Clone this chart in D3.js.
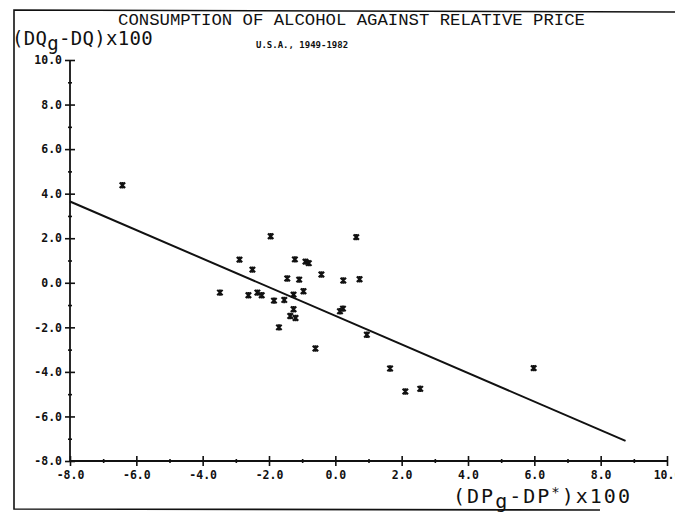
<!DOCTYPE html>
<html>
<head>
<meta charset="utf-8">
<script src="https://cdn.jsdelivr.net/npm/d3@7"></script>
<style>
  body { margin: 0; background: #fff; }
  svg { display: block; }
</style>
</head>
<body>
<svg id="chart" width="675" height="517"></svg>
<script>
// price deviation (DPg-DP*)x100
const priceDev = [-1.95, 0.63, -2.89, -2.50, -1.22, -0.90, -0.80, -1.45, -1.09, -0.42, 0.24,
    0.73, -3.48, -2.62, -2.35, -2.22, -1.85, -1.54, -1.26, -0.96, -1.26, -1.36, -1.20, -1.70,
    -0.60, 0.23, 0.14, 0.95, 1.65, 2.11, 2.56, 5.98, -6.42];
// consumption deviation (DQg-DQ)x100
const consDev = [2.09, 2.05, 1.04, 0.59, 1.05, 0.95, 0.88, 0.19, 0.14, 0.37, 0.10,
    0.16, -0.44, -0.56, -0.44, -0.56, -0.80, -0.77, -0.53, -0.38, -1.19, -1.49, -1.58, -2.00,
    -2.95, -1.16, -1.28, -2.33, -3.85, -4.88, -4.76, -3.83, 4.38];

// fitted line end points
const fitX = [-8.0, 8.75];
const fitY = [3.65, -7.1];

const xMajor = [-8, -6, -4, -2, 0, 2, 4, 6, 8, 10];
const xMinor = [-7, -5, -3, -1, 1, 3, 5, 7, 9];
const yMajor = [-8, -6, -4, -2, 0, 2, 4, 6, 8, 10];
const yMinor = [-7, -5, -3, -1, 1, 3, 5, 7, 9];

const svg = d3.select('#chart');

const xScale = d3.scaleLinear().domain([-8, 10]).range([70, 667]);
const yScale = d3.scaleLinear().domain([-8, 10]).range([461, 60]);

const fmt = d => d.toFixed(1);
const tickFont = '"DejaVu Sans Mono", monospace';

// frame
svg.append('path')
    .attr('d', 'M675,12 L14,10 L14,509 L600,510')
    .attr('fill', 'none')
    .attr('stroke', '#111')
    .attr('stroke-width', 1.6);

// y axis
const yAxisG = svg.append('g')
    .attr('transform', `translate(${xScale(-8)},0)`)
    .call(d3.axisLeft(yScale).tickValues(yMajor).tickFormat(fmt).tickSize(5).tickPadding(3));
yAxisG.selectAll('.tick line').attr('x1', -5).attr('x2', 5);

const yMinorG = svg.append('g')
    .attr('transform', `translate(${xScale(-8)},0)`)
    .call(d3.axisLeft(yScale).tickValues(yMinor).tickFormat('').tickSize(2));
yMinorG.selectAll('.tick line').attr('x1', -2).attr('x2', 2);
yMinorG.select('.domain').remove();

// x axis
const xAxisG = svg.append('g')
    .attr('transform', `translate(0,${yScale(-8)})`)
    .call(d3.axisBottom(xScale).tickValues(xMajor).tickFormat(fmt).tickSize(5).tickPadding(5));
xAxisG.selectAll('.tick line').attr('y1', -5).attr('y2', 5);

const xMinorG = svg.append('g')
    .attr('transform', `translate(0,${yScale(-8)})`)
    .call(d3.axisBottom(xScale).tickValues(xMinor).tickFormat('').tickSize(2));
xMinorG.selectAll('.tick line').attr('y1', -2).attr('y2', 2);
xMinorG.select('.domain').remove();

[yAxisG, xAxisG, yMinorG, xMinorG].forEach(g => {
    g.select('.domain').attr('stroke', '#111').attr('stroke-width', 1.8);
    g.selectAll('.tick line').attr('stroke', '#111').attr('stroke-width', 1.6);
    g.selectAll('.tick text')
        .attr('fill', '#111')
        .style('font-family', tickFont)
        .style('font-size', '11.5px')
        .style('font-weight', 'bold');
});
yAxisG.selectAll('.domain').attr('d', `M0,${yScale(-8)}V${yScale(10)}`);
xAxisG.selectAll('.domain').attr('d', `M${xScale(-8)},0H${xScale(10)}`);

// regression line
const fitData = fitX.map((x, i) => [x, fitY[i]]);
svg.append('path')
    .datum(fitData)
    .attr('d', d3.line().x(d => xScale(d[0])).y(d => yScale(d[1])))
    .attr('fill', 'none')
    .attr('stroke', '#111')
    .attr('stroke-width', 2);

// points, drawn as heavy asterisks
const pts = priceDev.map((x, i) => ({ x: x, y: consDev[i] }));
const r = 2.7;
svg.append('g').selectAll('path').data(pts)
    .enter().append('path')
    .attr('transform', d => `translate(${xScale(d.x)},${yScale(d.y)})`)
    .attr('d', `M${-r},${-r}L${r},${r}M${-r},${r}L${r},${-r}M0,${-r - 0.5}V${r + 0.5}`)
    .attr('fill', 'none')
    .attr('stroke', '#111')
    .attr('stroke-width', 2.1);

// titles
svg.append('text')
    .attr('x', 118).attr('y', 25)
    .attr('textLength', 467)
    .attr('lengthAdjust', 'spacingAndGlyphs')
    .style('font-family', '"Liberation Mono", monospace')
    .style('font-size', '16px')
    .attr('fill', '#111')
    .text('CONSUMPTION OF ALCOHOL AGAINST RELATIVE PRICE');

svg.append('text')
    .attr('x', 256).attr('y', 48)
    .style('font-family', tickFont)
    .style('font-size', '9px')
    .style('font-weight', 'bold')
    .attr('fill', '#111')
    .text('U.S.A., 1949-1982');

const yLab = svg.append('text')
    .attr('x', 12).attr('y', 45)
    .style('font-family', '"DejaVu Sans Mono", monospace')
    .style('font-size', '19px')
    .style('letter-spacing', '0.3px')
    .attr('fill', '#111');
yLab.append('tspan').text('(DQ');
yLab.append('tspan').attr('dy', 5).text('g');
yLab.append('tspan').attr('dy', -5).text('-DQ)x100');

const xLab = svg.append('text')
    .attr('x', 453).attr('y', 503)
    .style('font-family', '"DejaVu Sans Mono", monospace')
    .style('font-size', '20px')
    .style('letter-spacing', '2px')
    .attr('fill', '#111');
xLab.append('tspan').text('(DP');
xLab.append('tspan').attr('dy', 5).text('g');
xLab.append('tspan').attr('dy', -5).text('-DP');
xLab.append('tspan').attr('dy', -6).style('font-size', '14px').text('*');
xLab.append('tspan').attr('dy', 6).text(')x100');
</script>
</body>
</html>
